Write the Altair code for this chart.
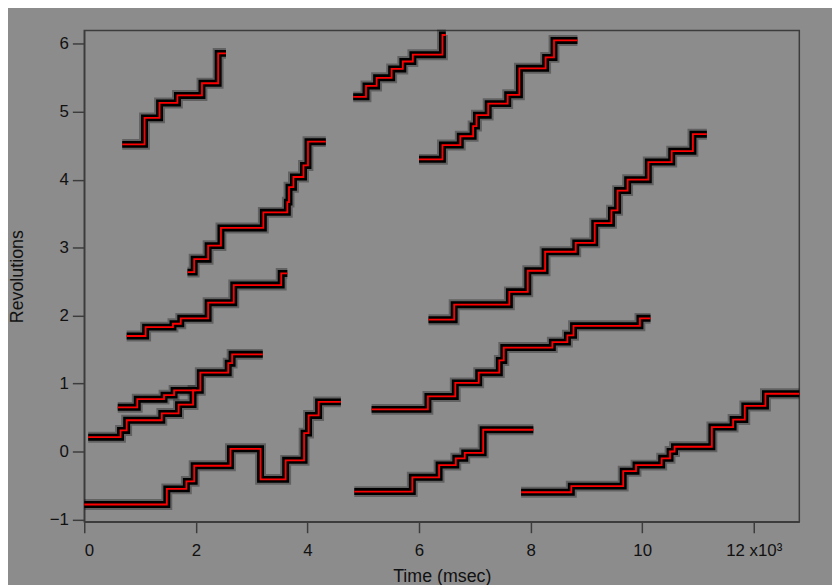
import altair as alt
import pandas as pd

# Step fits: start times (msec), levels (revolutions), end time of each trace
trace_names = ["A", "B", "C", "D", "E", "F", "G", "H", "I", "J", "K", "L"]

starts = {
    "A": [680, 1080, 1350, 1670, 2110, 2400],
    "B": [1850, 1970, 2220, 2450, 3210, 3640, 3670, 3750, 3930, 4010],
    "C": [760, 1100, 1590, 1730, 2220, 2680, 3530],
    "D": [600, 950, 1430, 1610, 2080, 2580, 2650],
    "E": [70, 650, 760, 1390, 1690, 1950],
    "F": [0, 1480, 1830, 1970, 2620, 3160, 3610, 3940, 4020, 4200],
    "G": [4820, 5050, 5240, 5510, 5710, 5890, 6420],
    "H": [6000, 6420, 6740, 6970, 7030, 7240, 7590, 7800, 8270, 8420],
    "I": [6170, 6630, 7620, 7950, 8260, 8810, 9150, 9450, 9560, 9740, 10110, 10530, 10910],
    "J": [5150, 6160, 6650, 7070, 7440, 7520, 8390, 8660, 8770, 9960],
    "K": [4840, 5880, 6360, 6660, 6820, 7150],
    "L": [7830, 8730, 9660, 9890, 10350, 10500, 10580, 11250, 11630, 11840, 12210],
}
levels = {
    "A": [4.52, 4.91, 5.13, 5.24, 5.42, 5.86],
    "B": [2.64, 2.83, 3.03, 3.29, 3.52, 3.67, 3.89, 4.04, 4.21, 4.56],
    "C": [1.70, 1.83, 1.88, 1.96, 2.19, 2.45, 2.62],
    "D": [0.65, 0.77, 0.83, 0.90, 1.16, 1.30, 1.43],
    "E": [0.21, 0.31, 0.46, 0.56, 0.69, 0.90],
    "F": [-0.78, -0.55, -0.44, -0.21, 0.04, -0.41, -0.13, 0.27, 0.53, 0.73],
    "G": [5.22, 5.38, 5.50, 5.63, 5.74, 5.84, 6.13],
    "H": [4.30, 4.51, 4.64, 4.79, 4.95, 5.12, 5.25, 5.64, 5.80, 6.05],
    "I": [1.94, 2.16, 2.35, 2.66, 2.94, 3.07, 3.36, 3.55, 3.84, 4.00, 4.26, 4.42, 4.67],
    "J": [0.62, 0.81, 1.01, 1.16, 1.34, 1.53, 1.61, 1.71, 1.85, 1.96],
    "K": [-0.59, -0.38, -0.20, -0.10, -0.02, 0.32],
    "L": [-0.60, -0.51, -0.29, -0.20, -0.10, 0.00, 0.07, 0.36, 0.47, 0.67, 0.85],
}
ends = {
    "A": 2540, "B": 4330, "C": 3640, "D": 3200, "E": 2000, "F": 4600,
    "G": 6480, "H": 8840, "I": 11160, "J": 10150, "K": 8050, "L": 12817,
}

x_ticks = [0, 2000, 4000, 6000, 8000, 10000, 12000]
y_ticks = [-1, 0, 1, 2, 3, 4, 5, 6]

rows = []
for name in trace_names:
    for t, v in zip(starts[name], levels[name]):
        rows.append({"trace": name, "t": t, "rev": v})
    rows.append({"trace": name, "t": ends[name], "rev": levels[name][-1]})
df = pd.DataFrame(rows)

x_enc = alt.X(
    "t:Q",
    scale=alt.Scale(domain=[0, 12817], nice=False, zero=False),
    axis=alt.Axis(
        values=x_ticks,
        labelExpr="datum.value == 12000 ? '12 x10\u00b3' : format(datum.value / 1000, 'd')",
        title="Time (msec)",
        titleFontSize=18,
        titleFontWeight="normal",
        titleBaseline="top",
        titleY=46,
        tickSize=11,
        labelPadding=10,
    ),
)
y_enc = alt.Y(
    "rev:Q",
    scale=alt.Scale(domain=[-1.035, 6.195], nice=False, zero=False),
    axis=alt.Axis(
        values=y_ticks,
        title="Revolutions",
        titleFontSize=18,
        titleFontWeight="normal",
        titleAngle=-90,
        titleX=-67,
        titleY=248,
        titleBaseline="middle",
        titleAlign="center",
        tickSize=12,
        labelPadding=4,
    ),
)

base = alt.Chart(df).encode(x=x_enc, y=y_enc, detail="trace:N")

halo = base.mark_line(interpolate="step-after", color="black", strokeWidth=11, opacity=0.3)
core = base.mark_line(interpolate="step-after", color="black", strokeWidth=7)
fit = base.mark_line(interpolate="step-after", color="#ff0000", strokeWidth=1.8)

chart = (
    alt.layer(halo, core, fit)
    .properties(
        width=722,
        height=496,
        background="#8c8c8c",
        padding={"left": 77, "top": 20, "right": 33, "bottom": 61},
        autosize=alt.AutoSizeParams(type="none"),
    )
    .configure_view(stroke="#3c3c3c", strokeWidth=1.5, fill="#8c8c8c")
    .configure_axis(
        grid=False,
        domainColor="#3c3c3c",
        domainWidth=1.5,
        tickColor="#3c3c3c",
        tickWidth=1.5,
        labelColor="#111111",
        titleColor="#111111",
        labelFont="Liberation Sans",
        titleFont="Liberation Sans",
        labelFontSize=17,
    )
)

chart.save("out.html", embed_options={"renderer": "svg", "actions": False})
